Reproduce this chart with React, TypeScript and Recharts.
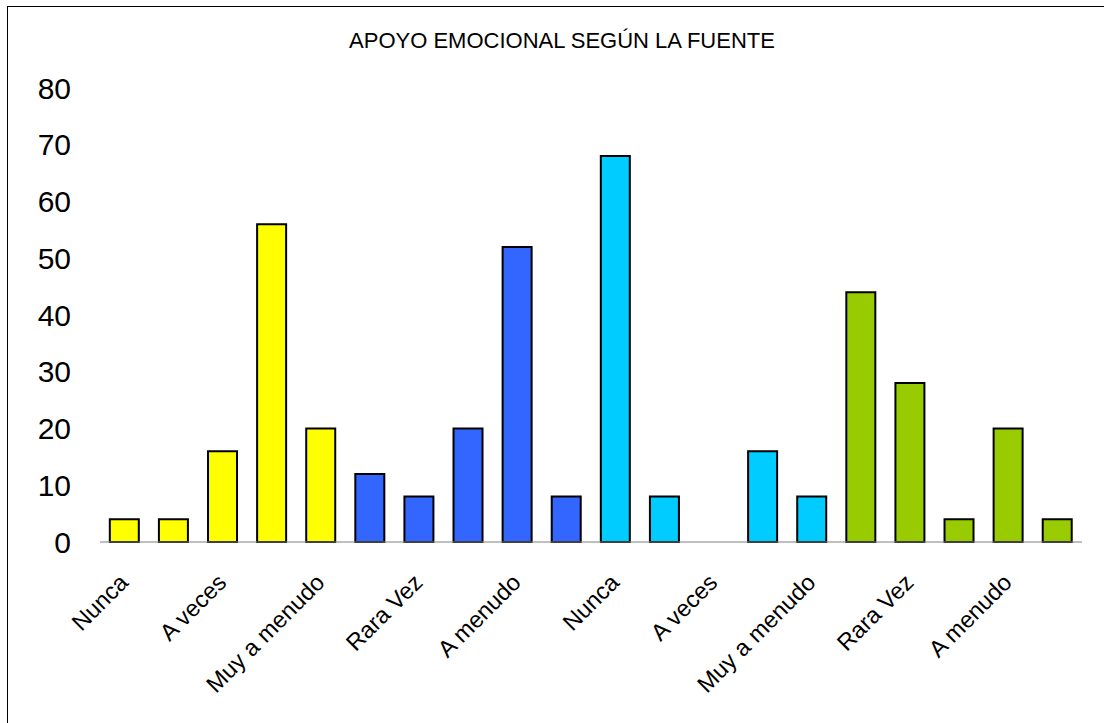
import { BarChart, Bar, XAxis, YAxis, Cell } from 'recharts';

const categories = [
  'Nunca', 'Rara Vez', 'A veces', 'A menudo', 'Muy a menudo',
  'Nunca', 'Rara Vez', 'A veces', 'A menudo', 'Muy a menudo',
  'Nunca', 'Rara Vez', 'A veces', 'A menudo', 'Muy a menudo',
  'Nunca', 'Rara Vez', 'A veces', 'A menudo', 'Muy a menudo',
];

const values = [
  4, 4, 16, 56, 20,
  12, 8, 20, 52, 8,
  68, 8, 0, 16, 8,
  44, 28, 4, 20, 4,
];

const groupColors = ['#FFFF00', '#3366FF', '#00CCFF', '#99CC00'];

const yTicks = [0, 10, 20, 30, 40, 50, 60, 70, 80];

const chartData = categories.map((name, i) => ({ name, id: i, value: values[i] }));

const FONT = '"Liberation Sans", Arial, sans-serif';

const XTick = ({ x, y, payload }: { x?: number; y?: number; payload?: { value: number } }) => {
  const label = categories[payload?.value ?? 0];
  return (
    <g transform={`translate(${(x ?? 0) + 5},${(y ?? 0) + 42})`}>
      <text textAnchor="end" transform="rotate(-45)" fontSize={23.5} fontFamily={FONT} fill="#000">
        {label}
      </text>
    </g>
  );
};

export default function App() {
  return (
    <div style={{ position: 'fixed', left: 0, top: 0, width: 1104, height: 723, background: '#fff' }}>
      <BarChart
        width={1104}
        height={723}
        data={chartData}
        margin={{ top: 88, right: 22, left: 0, bottom: 0 }}
        barCategoryGap="20%"
      >
        <text x={562} y={48} textAnchor="middle" fontSize={22} fontFamily={FONT} fill="#000">
          APOYO EMOCIONAL SEGÚN LA FUENTE
        </text>
        <XAxis
          dataKey="id"
          type="category"
          height={181}
          interval={1}
          tickLine={false}
          tickSize={0}
          tickMargin={0}
          axisLine={{ stroke: '#808080', strokeWidth: 1 }}
          tick={<XTick />}
        />
        <YAxis
          width={100}
          domain={[0, 80]}
          ticks={yTicks}
          axisLine={false}
          tickLine={false}
          tickSize={0}
          tickMargin={29}
          tick={{ fontSize: 30, fontFamily: FONT, fill: '#000' }}
        />
        <Bar dataKey="value" stroke="#000" strokeWidth={2} isAnimationActive={false}>
          {chartData.map((d) => (
            <Cell key={d.id} fill={groupColors[Math.floor(d.id / 5)]} />
          ))}
        </Bar>
      </BarChart>
      {/* outer frame; its right and bottom edges lie outside the picture */}
      <div
        style={{
          position: 'absolute',
          left: 7,
          top: 6,
          width: 1104,
          height: 723,
          borderLeft: '1px solid #000',
          borderTop: '1px solid #000',
          pointerEvents: 'none',
        }}
      />
    </div>
  );
}
